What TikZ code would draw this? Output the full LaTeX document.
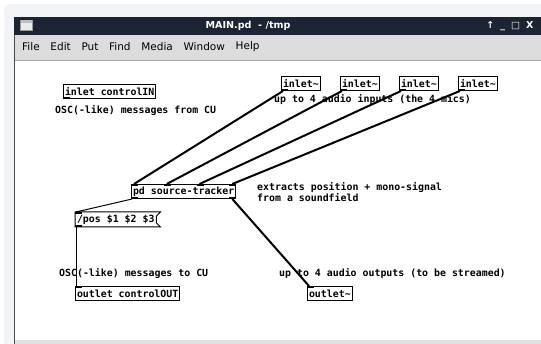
\documentclass[tikz,border=0pt]{standalone}
\usepackage{fontspec}
\newfontfamily\pdfont{DejaVu Sans Mono}
\newfontfamily\uifont{DejaVu Sans}
\usetikzlibrary{positioning,calc}
\definecolor{titlebg}{HTML}{1B2433}
\definecolor{menubg}{HTML}{DCDCDC}
\definecolor{outerbg}{HTML}{F3F4F7}
\tikzset{
  pdbox/.style={draw, line width=1pt, anchor=north west, inner xsep=1.5pt, inner ysep=0pt,
    minimum height=14pt, font=\pdfont\bfseries\fontsize{9.9}{11.5}\selectfont},
  pdtext/.style={anchor=west, inner sep=0pt, align=left,
    font=\pdfont\bfseries\fontsize{9.9}{11.5}\selectfont},
  menuitem/.style={anchor=west, inner sep=0pt, font=\uifont\fontsize{10.5}{12}\selectfont},
  sigwire/.style={line width=2pt},
  ctlwire/.style={line width=1pt}
}
\begin{document}
\begin{tikzpicture}[x=1pt,y=-1pt]

    % screen and window frame
    \useasboundingbox (0,0) rectangle (541,344);
    \fill[white] (0,0) rectangle (541,344);
    \fill[outerbg, rounded corners=6pt] (4,4) rectangle (560,360);
    \fill[white] (15,61) rectangle (541,340);
    \fill[black!12] (15,340) rectangle (541,344);
    \draw[black!70, line width=1.2pt] (14.5,35) -- (14.5,344);

    % title bar
    \fill[titlebg] (14,17) rectangle (541,35);
    \draw[black!40, fill=black!8] (20,20) rectangle (32,30);
    \fill[black!25] (20.5,20.5) rectangle (31.5,23);
    \node[white, font=\uifont\bfseries\fontsize{9.6}{11}\selectfont] (title) at (248,26) {MAIN.pd \ - /tmp};
    \node[white, font=\uifont\bfseries\fontsize{9.5}{11}\selectfont, anchor=east] (btns) at (537,26)
      {↑\hspace{6pt}\_\hspace{6pt}□\hspace{6pt}X};

    % menu bar
    \fill[menubg] (15,35) rectangle (541,60);
    \draw[black!35] (15,60.5) -- (541,60.5);
    \node[menuitem] (m1) at (22,47) {File};
    \node[menuitem, right=10.3pt of m1] (m2) {Edit};
    \node[menuitem, right=10.3pt of m2] (m3) {Put};
    \node[menuitem, right=10.3pt of m3] (m4) {Find};
    \node[menuitem, right=10.3pt of m4] (m5) {Media};
    \node[menuitem, right=10.3pt of m5] (m6) {Window};
    \node[menuitem, right=10.3pt of m6] (m7) {Help};

    % objects
    \node[pdbox] (ctlin) at (63,84) {inlet controlIN};
    \foreach \i/\x in {1/281, 2/340, 3/399, 4/458}
      \node[pdbox] (in\i) at (\x,76) {inlet\textasciitilde};
    \node[pdbox] (trk) at (131,184) {pd source-tracker};
    \node[pdbox, draw=none] (pos) at (75,212) {/pos \$1 \$2 \$3};
    \draw[line width=1pt] (pos.north west) -- ([xshift=4pt]pos.north east)
      -- ([yshift=-4pt]pos.north east) -- ([yshift=4pt]pos.south east)
      -- ([xshift=4pt]pos.south east) -- (pos.south west) -- cycle;
    \node[pdbox] (ctlout) at (75,286.5) {outlet controlOUT};
    \node[pdbox] (outs) at (307,286) {outlet\textasciitilde};

    % comments
    \node[pdtext] (fromcu) at (55,111) {OSC(-like) messages from CU};
    \node[pdtext] (inlbl) at (274,100) {up to 4 audio inputs (the 4 mics)};
    \node[pdtext] (trklbl) at (257,192) {extracts position + mono-signal\\from a soundfield};
    \node[pdtext] (tocu) at (59,274) {OSC(-like) messages to CU};
    \node[pdtext] (outlbl) at (279,274) {up to 4 audio outputs (to be streamed)};

    % inlets and outlets
    \foreach \n in {ctlin, in1, in2, in3, in4, pos}
      \fill (\n.south west) rectangle ++(7,-2);
    \fill ([xshift=-7pt]trk.south east) rectangle ++(7,-2);
    \fill (trk.south west) rectangle ++(7,-2);
    \foreach \n in {pos, ctlout, outs}
      \fill (\n.north west) rectangle ++(7,2);
    \foreach \i in {0,...,3}
      \fill ($(trk.north west)!{\i/3}!([xshift=-7pt]trk.north east)$) rectangle ++(7,2);

    % connections
    \foreach \i in {1,...,4}
      \draw[sigwire] ([xshift=2pt]in\i.south west)
        -- ($([xshift=3pt]trk.north west)!{(\i-1)/3}!([xshift=-4pt]trk.north east)$);
    \draw[ctlwire] ([xshift=1pt]trk.south west) -- ([xshift=1pt]pos.north west);
    \draw[sigwire] ([xshift=-4pt]trk.south east) -- ([xshift=2pt]outs.north west);
    \draw[ctlwire] ([xshift=1pt]pos.south west) -- ([xshift=1pt]ctlout.north west);

\end{tikzpicture}
\end{document}
